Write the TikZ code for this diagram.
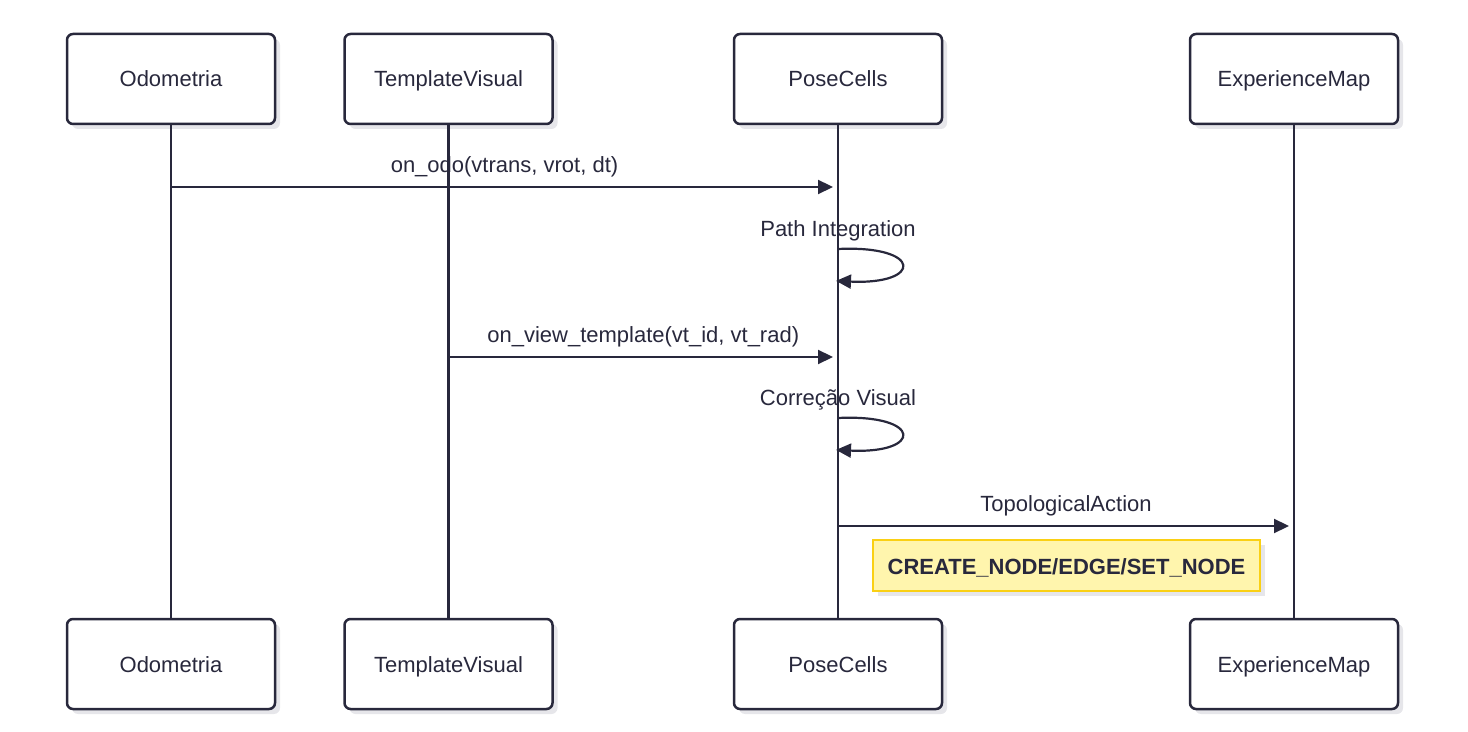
\documentclass[tikz,border=0pt]{standalone}
\usepackage{fontspec}
\setmainfont{Liberation Sans}
\usetikzlibrary{arrows.meta,shadows}
\definecolor{ink}{RGB}{40,40,60}
\definecolor{notefill}{RGB}{255,245,173}
\definecolor{notedraw}{RGB}{250,208,20}
\definecolor{shade}{RGB}{230,230,234}

\begin{document}
\begin{tikzpicture}[x=0.5pt,y=-0.5pt,
	actor/.style={draw=ink,line width=1.25pt,rounded corners=3pt,fill=white,
		minimum width=104pt,minimum height=45pt,text=ink,
		text height=8.5pt,text depth=0.5pt,
		font=\fontsize{11}{13}\selectfont,
		drop shadow={shadow xshift=2.5pt,shadow yshift=-2.5pt,fill=shade,opacity=1}},
	life/.style={draw=ink,line width=1.1pt},
	msg/.style={draw=ink,line width=1.1pt,-{Triangle[length=7.5pt,width=7pt]}},
	msglabel/.style={anchor=base,yshift=7pt,text=ink,font=\fontsize{11}{13}\selectfont},
	notebox/.style={draw=notedraw,fill=notefill,line width=1.25pt,minimum width=193.5pt,
		minimum height=25.5pt,text=ink,text height=9pt,text depth=0pt,
		font=\fontsize{11}{13}\selectfont\bfseries,
		drop shadow={shadow xshift=2.5pt,shadow yshift=-2.5pt,fill=shade,opacity=1}}]
\useasboundingbox (0,0) rectangle (1468,732);
% participants and lifelines
\foreach \name/\lbl/\x in {odo/Odometria/171,tv/TemplateVisual/448.5,pc/PoseCells/838,em/ExperienceMap/1294}{
	\node[actor] (\name-top) at (\x,79) {\lbl};
	\node[actor] (\name-bot) at (\x,664) {\lbl};
	\draw[life] (\name-top) -- (\name-bot);}
% messages
\coordinate (m1s) at (odo-top |- 0,187);
\coordinate (m1e) at (pc-top |- 0,187);
\draw[msg,shorten >=2.5pt] (m1s) -- (m1e) node[midway,msglabel]{on\_odo(vtrans, vrot, dt)};
\coordinate (l1s) at (pc-top |- 0,249);
\coordinate (l1e) at (pc-top |- 0,281);
\node[msglabel,yshift=-1pt] at (l1s) {Path Integration};
\draw[msg,shorten >=-1pt] (l1s) .. controls +(85,-4) and +(85,4) .. (l1e);
\coordinate (m2s) at (tv-top |- 0,357);
\coordinate (m2e) at (pc-top |- 0,357);
\draw[msg,shorten >=2.5pt] (m2s) -- (m2e) node[midway,msglabel]{on\_view\_template(vt\_id, vt\_rad)};
\coordinate (l2s) at (pc-top |- 0,418);
\coordinate (l2e) at (pc-top |- 0,450);
\node[msglabel,yshift=-1pt] at (l2s) {Correção Visual};
\draw[msg,shorten >=-1pt] (l2s) .. controls +(85,-4) and +(85,4) .. (l2e);
\coordinate (m3s) at (pc-top |- 0,526);
\coordinate (m3e) at (em-top |- 0,526);
\draw[msg,shorten >=2.5pt] (m3s) -- (m3e) node[midway,msglabel]{TopologicalAction};
% note
\node[notebox] (note) at (1066.5,565.5) {CREATE\_NODE/EDGE/SET\_NODE};
\end{tikzpicture}
\end{document}
